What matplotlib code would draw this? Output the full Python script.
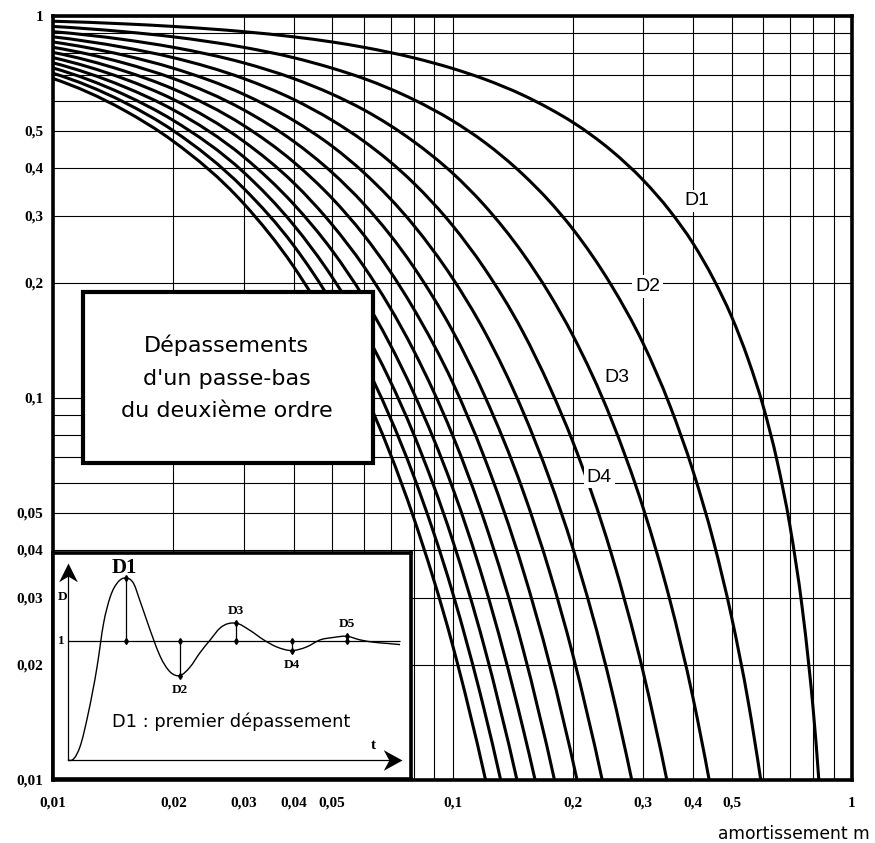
import numpy as np
import matplotlib
matplotlib.use('Agg')
import matplotlib.pyplot as plt
from matplotlib.path import Path
from matplotlib.patches import Rectangle, PathPatch
from matplotlib.ticker import FixedLocator, FixedFormatter, LogLocator, NullFormatter

# Damping values m where the curves were read (shared grid along the x axis)
m_grid = [0.01, 0.015, 0.02, 0.03, 0.04, 0.05, 0.06, 0.08, 0.1, 0.12, 0.15, 0.175,
          0.2, 0.25, 0.3, 0.35, 0.4, 0.45, 0.5, 0.55, 0.6, 0.65, 0.7, 0.75, 0.78, 0.8]

# Overshoot values read on each curve, from m = 0.01 onwards
d1 = [0.969, 0.954, 0.939, 0.910, 0.882, 0.855, 0.828, 0.777, 0.729, 0.684, 0.621, 0.572,
      0.527, 0.444, 0.372, 0.309, 0.254, 0.205, 0.163, 0.126, 0.0948, 0.0681, 0.0460,
      0.0284, 0.0199, 0.0152]
d2 = [0.939, 0.910, 0.882, 0.828, 0.778, 0.730, 0.686, 0.604, 0.532, 0.468, 0.385, 0.327,
      0.277, 0.197, 0.139, 0.0956, 0.0644, 0.0422, 0.0266, 0.0160]
d3 = [0.910, 0.868, 0.828, 0.754, 0.686, 0.624, 0.568, 0.469, 0.388, 0.320, 0.239, 0.187,
      0.146, 0.0877, 0.0516, 0.0296, 0.0164]
d4 = [0.882, 0.828, 0.778, 0.686, 0.605, 0.533, 0.470, 0.365, 0.283, 0.219, 0.149, 0.107,
      0.0769, 0.0390, 0.0192]
d5 = [0.855, 0.790, 0.730, 0.624, 0.533, 0.456, 0.389, 0.283, 0.206, 0.150, 0.0923, 0.0613,
      0.0405, 0.0173]
d6 = [0.828, 0.754, 0.686, 0.568, 0.470, 0.389, 0.322, 0.220, 0.150, 0.102, 0.0573, 0.0351,
      0.0213]
d7 = [0.803, 0.719, 0.644, 0.517, 0.415, 0.333, 0.267, 0.171, 0.110, 0.0701, 0.0356, 0.0201]
d8 = [0.778, 0.686, 0.605, 0.470, 0.366, 0.284, 0.221, 0.133, 0.0800, 0.0479, 0.0221]
d9 = [0.754, 0.654, 0.568, 0.428, 0.322, 0.243, 0.183, 0.103, 0.0583, 0.0328, 0.0137]
d10 = [0.731, 0.624, 0.533, 0.390, 0.284, 0.207, 0.151, 0.0803, 0.0425, 0.0224]
d11 = [0.708, 0.596, 0.501, 0.354, 0.251, 0.177, 0.125, 0.0624, 0.0310, 0.0153]
d12 = [0.686, 0.568, 0.470, 0.323, 0.221, 0.151, 0.104, 0.0485, 0.0226]

# Damping where each curve leaves the chart at D = 0,01
m_end = [0.826, 0.591, 0.439, 0.344, 0.281, 0.237, 0.205, 0.180, 0.161, 0.145, 0.132, 0.121]
d_floor = 0.01

# Tick labels
x_ticks = [0.01, 0.02, 0.03, 0.04, 0.05, 0.1, 0.2, 0.3, 0.4, 0.5, 1]
x_labels = ['0,01', '0,02', '0,03', '0,04', '0,05', '0,1', '0,2', '0,3', '0,4', '0,5', '1']
y_ticks = [0.01, 0.02, 0.03, 0.04, 0.05, 0.1, 0.2, 0.3, 0.4, 0.5, 1]
y_labels = ['0,01', '0,02', '0,03', '0,04', '0,05', '0,1', '0,2', '0,3', '0,4', '0,5', '1']

# Inset: step response (t in half periods, response / final value)
step_t = [0.0, 0.21, 0.36, 0.52, 0.64, 0.76, 0.91, 1.04, 1.19, 1.30, 1.42, 1.55, 1.67, 1.85,
          2.03, 2.21, 2.39, 2.58, 2.76, 3.05, 3.30, 3.55, 3.79, 4.06, 4.33, 4.58, 4.82,
          5.06, 5.30, 5.55, 5.79, 6.03]
step_y = [0.0, 0.11, 0.39, 0.78, 1.15, 1.37, 1.50, 1.53, 1.48, 1.34, 1.18, 1.01, 0.87, 0.74,
          0.71, 0.78, 0.90, 1.01, 1.11, 1.15, 1.09, 1.01, 0.95, 0.92, 0.95, 1.01, 1.03,
          1.04, 1.01, 0.99, 0.98, 0.97]
peak_t = [1.04, 2.03, 3.05, 4.06, 5.06]
peak_y = [1.53, 0.71, 1.15, 0.92, 1.04]
peak_names = ['D1', 'D2', 'D3', 'D4', 'D5']

curves = [d1, d2, d3, d4, d5, d6, d7, d8, d9, d10, d11, d12]


def smooth_verts(xs, ys):
    # cubic Bezier pieces through the points, tangent at each point taken
    # from the parabola through it and its two neighbours
    x = np.asarray(xs, float)
    y = np.asarray(ys, float)
    h = np.diff(x)
    s = np.diff(y) / h
    g = np.empty(len(x))
    g[1:-1] = (h[1:] * s[:-1] + h[:-1] * s[1:]) / (h[:-1] + h[1:])
    g[0] = ((2 * h[0] + h[1]) * s[0] - h[0] * s[1]) / (h[0] + h[1])
    g[-1] = ((2 * h[-1] + h[-2]) * s[-1] - h[-1] * s[-2]) / (h[-1] + h[-2])
    verts = [(x[0], y[0])]
    codes = [Path.MOVETO]
    for i in range(len(x) - 1):
        verts += [(x[i] + h[i] / 3, y[i] + g[i] * h[i] / 3),
                  (x[i + 1] - h[i] / 3, y[i + 1] - g[i + 1] * h[i] / 3),
                  (x[i + 1], y[i + 1])]
        codes += [Path.CURVE4] * 3
    return np.array(verts), codes


W, H = 875, 843
fig = plt.figure(figsize=(W / 100, H / 100), dpi=100)
ax = fig.add_axes([53 / W, 63 / H, 799 / W, 764 / H])

ax.set_xscale('log')
ax.set_yscale('log')
ax.set_xlim(0.01, 1)
ax.set_ylim(0.01, 1)

# the curves are smoothed in log-log space, then handed back in data units
for d, m_last in zip(curves, m_end):
    xs = m_grid[:len(d)] + [m_last]
    ys = d + [d_floor]
    verts, codes = smooth_verts(np.log10(xs), np.log10(ys))
    ax.add_patch(PathPatch(Path(10 ** verts, codes), fill=False, ec='black', lw=2.2,
                           capstyle='butt', zorder=3))

serif = 'Liberation Serif'
ax.xaxis.set_major_locator(FixedLocator(x_ticks))
ax.xaxis.set_major_formatter(FixedFormatter(x_labels))
ax.yaxis.set_major_locator(FixedLocator(y_ticks))
ax.yaxis.set_major_formatter(FixedFormatter(y_labels))
ax.xaxis.set_minor_locator(LogLocator(base=10, subs=range(2, 10)))
ax.yaxis.set_minor_locator(LogLocator(base=10, subs=range(2, 10)))
ax.xaxis.set_minor_formatter(NullFormatter())
ax.yaxis.set_minor_formatter(NullFormatter())
ax.tick_params(which='both', length=0)
ax.tick_params(axis='x', pad=12)
ax.tick_params(axis='y', pad=7)
for lab in ax.get_xticklabels() + ax.get_yticklabels():
    lab.set_fontfamily(serif)
    lab.set_fontweight('bold')
    lab.set_fontsize(11)
ax.grid(which='both', color='black', lw=0.8, zorder=1)
ax.set_axisbelow(True)
for sp in ax.spines.values():
    sp.set_linewidth(2.6)
    sp.set_zorder(6)

# curve labels
lab_kw = dict(fontsize=14, family='Liberation Sans', ha='center', va='center', zorder=5,
              bbox=dict(boxstyle='square,pad=0.15', fc='white', ec='none'))
ax.text(0.409, 0.328, 'D1', **lab_kw)
ax.text(0.308, 0.196, 'D2', **lab_kw)
ax.text(0.258, 0.113, 'D3', **lab_kw)
ax.text(0.233, 0.0621, 'D4', **lab_kw)

# title box
ax.add_patch(Rectangle((0.0375, 0.415), 0.363, 0.224, transform=ax.transAxes,
                       fc='white', ec='black', lw=3, zorder=5))
ax.text(0.217, 0.526, "Dépassements\nd'un passe-bas\ndu deuxième ordre",
        transform=ax.transAxes, ha='center', va='center', multialignment='center',
        fontsize=16, family='DejaVu Sans', linespacing=1.78, zorder=6)

fig.text(870 / W, 1 - 834 / H, 'amortissement m', ha='right', va='center',
         fontsize=12.3, family='DejaVu Sans')

# inset sketch
ax_in = fig.add_axes([53 / W, 64 / H, 358 / W, 226 / H], zorder=10)
ax_in.set_facecolor('white')
ax_in.set_xlim(-0.28, 6.23)
ax_in.set_ylim(-0.16, 1.74)
ax_in.set_xticks([])
ax_in.set_yticks([])
for sp in ax_in.spines.values():
    sp.set_linewidth(2.6)

# axes of the sketch with barbed arrow heads
head_up = Path([(0, 0), (-0.5, -1), (0, -0.7), (0.5, -1), (0, 0)],
               [Path.MOVETO, Path.LINETO, Path.LINETO, Path.LINETO, Path.CLOSEPOLY])
head_right = Path([(0, 0), (-1, 0.55), (-0.7, 0), (-1, -0.55), (0, 0)],
                  [Path.MOVETO, Path.LINETO, Path.LINETO, Path.LINETO, Path.CLOSEPOLY])
ax_in.plot([0, 0], [0, 1.6], color='black', lw=0.9)
ax_in.plot([0, 6.0], [0, 0], color='black', lw=0.9)
ax_in.plot([0], [1.66], marker=head_up, ms=27, color='black', mew=0)
ax_in.plot([6.07], [0], marker=head_right, ms=27, color='black', mew=0)

ax_in.hlines(1, step_t[0], step_t[-1], color='black', lw=0.9)
verts, codes = smooth_verts(step_t, step_y)
ax_in.add_patch(PathPatch(Path(verts, codes), fill=False, ec='black', lw=1.0))
ax_in.vlines(peak_t, 1, peak_y, color='black', lw=0.9)
ax_in.plot(peak_t, peak_y, 'd', color='black', ms=3)
ax_in.plot(peak_t, [1] * len(peak_t), 'd', color='black', ms=3)

small = dict(family=serif, fontweight='bold', fontsize=9.5, ha='center', va='center')
ax_in.text(peak_t[0] - 0.02, peak_y[0] + 0.08, peak_names[0], family=serif,
           fontweight='bold', fontsize=15, ha='center', va='center')
for tt, yy, nm in zip(peak_t[1:], peak_y[1:], peak_names[1:]):
    off = 0.1 if yy > 1 else -0.12
    ax_in.text(tt, yy + off, nm, **small)
ax_in.text(-0.1, 1.37, 'D', **small)
ax_in.text(-0.13, 1.0, '1', **small)
ax_in.text(5.54, 0.12, 't', family=serif, fontweight='bold', fontsize=11,
           ha='center', va='center')
ax_in.text(2.95, 0.32, 'D1 : premier dépassement', ha='center', va='center',
           fontsize=12.8, family='DejaVu Sans')

fig.savefig('out.png', dpi=100)
